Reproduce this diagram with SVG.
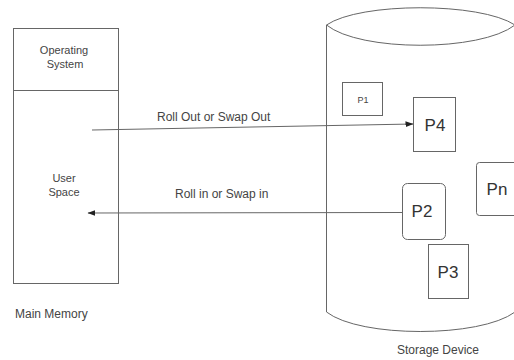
<svg xmlns="http://www.w3.org/2000/svg" width="514" height="360" viewBox="0 0 514 360">
<style>
.ln{fill:none;stroke:#666;stroke-width:1}
.bx{fill:#fff;stroke:#666;stroke-width:1}
.t{font-family:"Liberation Sans",Arial,sans-serif;font-size:12px;fill:#444}
.s{font-size:11px}
.p{font-family:"Liberation Sans",Arial,sans-serif;font-size:17px;fill:#333}
</style>
<defs>
<marker id="ah" markerWidth="8" markerHeight="6" refX="7.5" refY="3" orient="auto" markerUnits="userSpaceOnUse">
<path d="M0,0 L8,3 L0,6 Z" fill="#222"/>
</marker>
</defs>
<rect width="514" height="360" fill="#fff"/>
<g id="main-memory">
<rect class="bx" x="13.5" y="28.5" width="105" height="255"/>
<line class="ln" x1="13.5" y1="90.5" x2="118.5" y2="90.5"/>
<text class="t s" x="64" y="54" text-anchor="middle">Operating</text>
<text class="t s" x="65" y="68" text-anchor="middle">System</text>
<text class="t s" x="64" y="182" text-anchor="middle">User</text>
<text class="t s" x="64" y="196" text-anchor="middle">Space</text>
<text class="t" x="15" y="318">Main Memory</text>
</g>
<g id="storage-device">
<path class="ln" d="M326.5,25 C360,2 480,2 515,25 C480,52 360,52 326.5,25 Z"/>
<path class="ln" d="M326.5,25 L326.5,312 C360,338 480,338 515,312 L515,25"/>
<text class="t" x="397" y="354">Storage Device</text>
</g>
<g id="P1">
<rect class="bx" x="342.5" y="82.5" width="40" height="33"/>
<text class="t" x="363" y="103" text-anchor="middle" style="font-size:9px">P1</text>
</g>
<g id="P4">
<rect class="bx" x="413.5" y="97.5" width="42" height="54"/>
<text class="p" x="435" y="131" text-anchor="middle">P4</text>
</g>
<g id="Pn">
<rect class="bx" x="476.5" y="162.5" width="44" height="53" rx="3"/>
<text class="p" x="497" y="195" text-anchor="middle">Pn</text>
</g>
<g id="P2">
<rect class="bx" x="402.5" y="183.5" width="43" height="56" rx="5"/>
<text class="p" x="422" y="217" text-anchor="middle">P2</text>
</g>
<g id="P3">
<rect class="bx" x="428.5" y="244.5" width="40" height="54"/>
<text class="p" x="448" y="278" text-anchor="middle">P3</text>
</g>
<g id="connectors">
<line class="ln" x1="92" y1="130" x2="413" y2="124" marker-end="url(#ah)"/>
<text class="t" x="157" y="121">Roll Out or Swap Out</text>
<line class="ln" x1="402" y1="212.5" x2="88" y2="213" marker-end="url(#ah)"/>
<text class="t" x="175" y="198">Roll in or Swap in</text>
</g>
</svg>
